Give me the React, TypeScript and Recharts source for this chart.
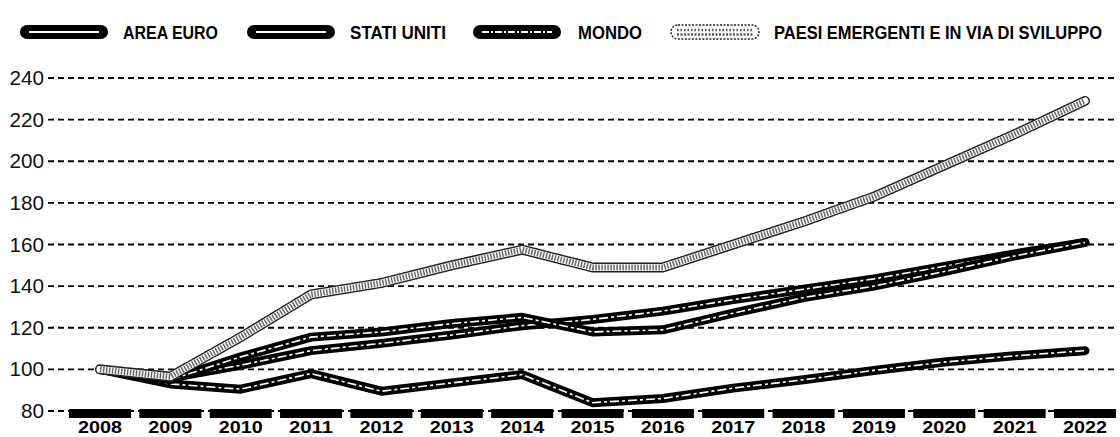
import { CartesianGrid, Line, LineChart, XAxis, YAxis } from "recharts";

const years = ["2008", "2009", "2010", "2011", "2012", "2013", "2014", "2015", "2016", "2017", "2018", "2019", "2020", "2021", "2022"];
const areaEuro = [100, 93, 90.5, 98, 89.5, 93.5, 97.5, 84, 86, 91, 95, 99.5, 103.5, 106.5, 109];
const statiUniti = [100, 96, 102, 109, 112.5, 116.5, 121, 124, 128, 133.5, 138.5, 143.5, 149.5, 155.5, 161];
const mondo = [100, 95, 106, 115.5, 118, 122, 125, 118, 119, 127, 134.5, 140, 147, 154.5, 161];
const paesiEmergenti = [100, 96.5, 115.5, 136, 141.5, 150, 157.5, 149, 149, 160, 171, 183, 198, 213, 229];
const yTicks = [80, 100, 120, 140, 160, 180, 200, 220, 240];

const font = "'Liberation Sans', Arial, sans-serif";

const data = years.map((year, i) => ({
  year,
  areaEuro: areaEuro[i],
  statiUniti: statiUniti[i],
  mondo: mondo[i],
  paesiEmergenti: paesiEmergenti[i]
}));

function YearTick({ x, y, payload }: any) {
  return (
    <g>
      <rect x={x - 31} y={y - 2} width={62} height={9} fill="#000" />
      <text
        x={x}
        y={y + 22}
        textAnchor="middle"
        fontFamily={font}
        fontWeight={700}
        fontSize={17}
        textLength={44}
        lengthAdjust="spacingAndGlyphs"
        fill="#000"
      >
        {payload.value}
      </text>
    </g>
  );
}

function ValueTick({ x, y, payload }: any) {
  const label = String(payload.value);
  return (
    <text
      x={x}
      y={y + 7}
      textAnchor="end"
      fontFamily={font}
      fontSize={20}
      textLength={label.length * 11.5}
      lengthAdjust="spacingAndGlyphs"
      fill="#111"
    >
      {label}
    </text>
  );
}

// black double line: thick black body with a thin broken white core
function blackLine(key: string) {
  return [
    <Line key={key + "-body"} dataKey={key} type="linear" stroke="#000" strokeWidth={9} strokeLinecap="round" strokeLinejoin="round" dot={false} activeDot={false} isAnimationActive={false} />,
    <Line key={key + "-core"} dataKey={key} type="linear" stroke="#fff" strokeWidth={1.6} strokeDasharray="9 3 3 3" dot={false} activeDot={false} isAnimationActive={false} />
  ];
}

function legendIcon(x: number, kind: "solid" | "dashed" | "speckle") {
  if (kind === "speckle") {
    return (
      <g>
        <rect x={x} y={25} width={88} height={14} rx={7} fill="#fff" stroke="#222" strokeWidth={1.5} strokeDasharray="2 1.5" />
        <line x1={x + 6} y1={30} x2={x + 82} y2={30} stroke="#555" strokeWidth={2.5} strokeDasharray="1.5 2" />
        <line x1={x + 6} y1={34.5} x2={x + 82} y2={34.5} stroke="#555" strokeWidth={2.5} strokeDasharray="2 1.5" />
      </g>
    );
  }
  return (
    <g>
      <rect x={x} y={25} width={88} height={14} rx={7} fill="#000" />
      <line
        x1={x + 9}
        y1={32}
        x2={x + 79}
        y2={32}
        stroke="#fff"
        strokeWidth={2}
        strokeDasharray={kind === "dashed" ? "7 2 2 2" : undefined}
      />
    </g>
  );
}

function LegendBar() {
  const label = (x: number, w: number, text: string) => (
    <text x={x} y={39} fontFamily={font} fontWeight={700} fontSize={19} textLength={w} lengthAdjust="spacingAndGlyphs" fill="#000">
      {text}
    </text>
  );
  return (
    <svg width={1120} height={48} style={{ position: "absolute", left: 0, top: 0 }}>
      {legendIcon(20, "solid")}
      {label(123, 95, "AREA EURO")}
      {legendIcon(247, "solid")}
      {label(350, 96, "STATI UNITI")}
      {legendIcon(473, "dashed")}
      {label(578, 64, "MONDO")}
      {legendIcon(671, "speckle")}
      {label(774, 328, "PAESI EMERGENTI E IN VIA DI SVILUPPO")}
    </svg>
  );
}

export default function App() {
  return (
    <div style={{ position: "absolute", left: 0, top: 0, width: 1120, height: 437, background: "#fff", overflow: "hidden" }}>
      <LineChart width={1120} height={437} data={data} margin={{ top: 78, right: 5, bottom: 0, left: 0 }}>
        <CartesianGrid vertical={false} stroke="#000" strokeWidth={1.8} strokeDasharray="6 4" />
        <YAxis
          type="number"
          domain={[80, 240]}
          ticks={yTicks}
          width={48}
          axisLine={false}
          tickLine={false}
          tickSize={0}
          tickMargin={4}
          tick={<ValueTick />}
          interval={0}
        />
        {blackLine("areaEuro")}
        {blackLine("statiUniti")}
        {blackLine("mondo")}
        <Line dataKey="paesiEmergenti" type="linear" stroke="#222" strokeWidth={10} strokeDasharray="2 1.5" strokeLinecap="round" dot={false} activeDot={false} isAnimationActive={false} />
        <Line dataKey="paesiEmergenti" type="linear" stroke="#fff" strokeWidth={7} strokeLinecap="round" dot={false} activeDot={false} isAnimationActive={false} />
        <Line dataKey="paesiEmergenti" type="linear" stroke="#666" strokeWidth={6} strokeDasharray="1.5 1.5" dot={false} activeDot={false} isAnimationActive={false} />
        <XAxis
          dataKey="year"
          type="category"
          height={26}
          padding={{ left: 52, right: 30 }}
          axisLine={false}
          tickLine={false}
          tickSize={0}
          tickMargin={0}
          interval={0}
          tick={<YearTick />}
        />
      </LineChart>
      <LegendBar />
    </div>
  );
}
